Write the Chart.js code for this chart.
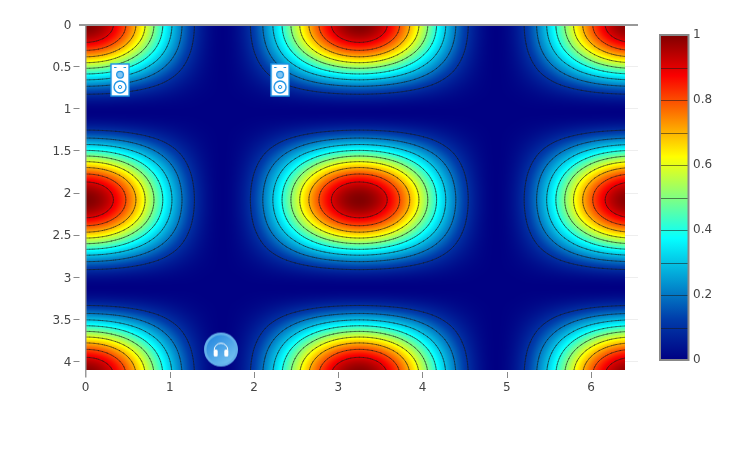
<!DOCTYPE html>
<html>
<head>
<meta charset="utf-8">
<style>
  html, body { margin: 0; background: #fff; }
  #wrap { position: relative; width: 729px; height: 450px; }
  canvas { position: absolute; left: 0; top: 0; }
</style>
<script src="https://cdn.jsdelivr.net/npm/chart.js@4"></script>
</head>
<body>
<div id="wrap">
  <canvas id="fieldChart" width="729" height="450"></canvas>
  <canvas id="barChart" width="729" height="450"></canvas>
</div>
<script>
const xGrid = [0,.203,.406,.609,.813,1.016,1.219,1.422,1.625,1.828,2.031,2.234,2.438,2.641,2.844,3.047,3.25,3.453,3.656,3.859,4.063,4.266,4.469,4.672,4.875,5.078,5.281,5.484,5.688,5.891,6.094,6.297,6.5];
const yGrid = [0,.13,.26,.39,.52,.65,.78,.91,1.04,1.17,1.3,1.43,1.56,1.69,1.82,1.95,2.08,2.21,2.34,2.47,2.6,2.73,2.86,2.99,3.12,3.25,3.38,3.51,3.64,3.77,3.9,4.03,4.16];
const zRows = [
[1,.962,.854,.691,.5,.309,.146,.038,0,.038,.146,.309,.5,.691,.854,.962,1,.962,.854,.691,.5,.309,.146,.038,0,.038,.146,.309,.5,.691,.854,.962,1],
[.962,.925,.822,.665,.481,.297,.14,.037,0,.037,.14,.297,.481,.665,.822,.925,.962,.925,.822,.665,.481,.297,.14,.037,0,.037,.14,.297,.481,.665,.822,.925,.962],
[.854,.822,.729,.59,.427,.264,.125,.032,0,.032,.125,.264,.427,.59,.729,.822,.854,.822,.729,.59,.427,.264,.125,.032,0,.032,.125,.264,.427,.59,.729,.822,.854],
[.691,.665,.59,.477,.346,.214,.101,.026,0,.026,.101,.214,.346,.477,.59,.665,.691,.665,.59,.477,.346,.214,.101,.026,0,.026,.101,.214,.346,.477,.59,.665,.691],
[.5,.481,.427,.346,.25,.155,.073,.019,0,.019,.073,.155,.25,.346,.427,.481,.5,.481,.427,.346,.25,.155,.073,.019,0,.019,.073,.155,.25,.346,.427,.481,.5],
[.309,.297,.264,.214,.155,.095,.045,.012,0,.012,.045,.095,.155,.214,.264,.297,.309,.297,.264,.214,.155,.095,.045,.012,0,.012,.045,.095,.155,.214,.264,.297,.309],
[.146,.14,.125,.101,.073,.045,.021,.006,0,.006,.021,.045,.073,.101,.125,.14,.146,.14,.125,.101,.073,.045,.021,.006,0,.006,.021,.045,.073,.101,.125,.14,.146],
[.038,.037,.032,.026,.019,.012,.006,.001,0,.001,.006,.012,.019,.026,.032,.037,.038,.037,.032,.026,.019,.012,.006,.001,0,.001,.006,.012,.019,.026,.032,.037,.038],
[0,0,0,0,0,0,0,0,0,0,0,0,0,0,0,0,0,0,0,0,0,0,0,0,0,0,0,0,0,0,0,0,0],
[.038,.037,.032,.026,.019,.012,.006,.001,0,.001,.006,.012,.019,.026,.032,.037,.038,.037,.032,.026,.019,.012,.006,.001,0,.001,.006,.012,.019,.026,.032,.037,.038],
[.146,.14,.125,.101,.073,.045,.021,.006,0,.006,.021,.045,.073,.101,.125,.14,.146,.14,.125,.101,.073,.045,.021,.006,0,.006,.021,.045,.073,.101,.125,.14,.146],
[.309,.297,.264,.214,.155,.095,.045,.012,0,.012,.045,.095,.155,.214,.264,.297,.309,.297,.264,.214,.155,.095,.045,.012,0,.012,.045,.095,.155,.214,.264,.297,.309],
[.5,.481,.427,.346,.25,.155,.073,.019,0,.019,.073,.155,.25,.346,.427,.481,.5,.481,.427,.346,.25,.155,.073,.019,0,.019,.073,.155,.25,.346,.427,.481,.5],
[.691,.665,.59,.477,.346,.214,.101,.026,0,.026,.101,.214,.346,.477,.59,.665,.691,.665,.59,.477,.346,.214,.101,.026,0,.026,.101,.214,.346,.477,.59,.665,.691],
[.854,.822,.729,.59,.427,.264,.125,.032,0,.032,.125,.264,.427,.59,.729,.822,.854,.822,.729,.59,.427,.264,.125,.032,0,.032,.125,.264,.427,.59,.729,.822,.854],
[.962,.925,.822,.665,.481,.297,.14,.037,0,.037,.14,.297,.481,.665,.822,.925,.962,.925,.822,.665,.481,.297,.14,.037,0,.037,.14,.297,.481,.665,.822,.925,.962],
[1,.962,.854,.691,.5,.309,.146,.038,0,.038,.146,.309,.5,.691,.854,.962,1,.962,.854,.691,.5,.309,.146,.038,0,.038,.146,.309,.5,.691,.854,.962,1],
[.962,.925,.822,.665,.481,.297,.14,.037,0,.037,.14,.297,.481,.665,.822,.925,.962,.925,.822,.665,.481,.297,.14,.037,0,.037,.14,.297,.481,.665,.822,.925,.962],
[.854,.822,.729,.59,.427,.264,.125,.032,0,.032,.125,.264,.427,.59,.729,.822,.854,.822,.729,.59,.427,.264,.125,.032,0,.032,.125,.264,.427,.59,.729,.822,.854],
[.691,.665,.59,.477,.346,.214,.101,.026,0,.026,.101,.214,.346,.477,.59,.665,.691,.665,.59,.477,.346,.214,.101,.026,0,.026,.101,.214,.346,.477,.59,.665,.691],
[.5,.481,.427,.346,.25,.155,.073,.019,0,.019,.073,.155,.25,.346,.427,.481,.5,.481,.427,.346,.25,.155,.073,.019,0,.019,.073,.155,.25,.346,.427,.481,.5],
[.309,.297,.264,.214,.155,.095,.045,.012,0,.012,.045,.095,.155,.214,.264,.297,.309,.297,.264,.214,.155,.095,.045,.012,0,.012,.045,.095,.155,.214,.264,.297,.309],
[.146,.14,.125,.101,.073,.045,.021,.006,0,.006,.021,.045,.073,.101,.125,.14,.146,.14,.125,.101,.073,.045,.021,.006,0,.006,.021,.045,.073,.101,.125,.14,.146],
[.038,.037,.032,.026,.019,.012,.006,.001,0,.001,.006,.012,.019,.026,.032,.037,.038,.037,.032,.026,.019,.012,.006,.001,0,.001,.006,.012,.019,.026,.032,.037,.038],
[0,0,0,0,0,0,0,0,0,0,0,0,0,0,0,0,0,0,0,0,0,0,0,0,0,0,0,0,0,0,0,0,0],
[.038,.037,.032,.026,.019,.012,.006,.001,0,.001,.006,.012,.019,.026,.032,.037,.038,.037,.032,.026,.019,.012,.006,.001,0,.001,.006,.012,.019,.026,.032,.037,.038],
[.146,.14,.125,.101,.073,.045,.021,.006,0,.006,.021,.045,.073,.101,.125,.14,.146,.14,.125,.101,.073,.045,.021,.006,0,.006,.021,.045,.073,.101,.125,.14,.146],
[.309,.297,.264,.214,.155,.095,.045,.012,0,.012,.045,.095,.155,.214,.264,.297,.309,.297,.264,.214,.155,.095,.045,.012,0,.012,.045,.095,.155,.214,.264,.297,.309],
[.5,.481,.427,.346,.25,.155,.073,.019,0,.019,.073,.155,.25,.346,.427,.481,.5,.481,.427,.346,.25,.155,.073,.019,0,.019,.073,.155,.25,.346,.427,.481,.5],
[.691,.665,.59,.477,.346,.214,.101,.026,0,.026,.101,.214,.346,.477,.59,.665,.691,.665,.59,.477,.346,.214,.101,.026,0,.026,.101,.214,.346,.477,.59,.665,.691],
[.854,.822,.729,.59,.427,.264,.125,.032,0,.032,.125,.264,.427,.59,.729,.822,.854,.822,.729,.59,.427,.264,.125,.032,0,.032,.125,.264,.427,.59,.729,.822,.854],
[.962,.925,.822,.665,.481,.297,.14,.037,0,.037,.14,.297,.481,.665,.822,.925,.962,.925,.822,.665,.481,.297,.14,.037,0,.037,.14,.297,.481,.665,.822,.925,.962],
[1,.962,.854,.691,.5,.309,.146,.038,0,.038,.146,.309,.5,.691,.854,.962,1,.962,.854,.691,.5,.309,.146,.038,0,.038,.146,.309,.5,.691,.854,.962,1]
];
const contourLevels = [.1,.2,.3,.4,.5,.6,.7,.8,.9];
const xTicks = [0,1,2,3,4,5,6];
const yTicks = [0,.5,1,1.5,2,2.5,3,3.5,4];
const barTicks = [0,.2,.4,.6,.8,1];
const speakerX = [.41,2.31];
const speakerY = [.658,.658];
const headphoneX = [1.608];
const headphoneY = [3.855];

const xMax = 6.558, yMax = 4.098, heatXMax = 6.4;
const jetStops = [[0,0,0,131],[.125,0,60,170],[.375,5,255,255],[.625,255,255,0],[.875,250,0,0],[1,128,0,0]];
const textColor = '#444';
const axisColor = '#999';
const tickColor = '#888';
const contourColor = 'rgba(25,25,25,0.55)';
const smooth = 4;

Chart.defaults.font.family = '"DejaVu Sans", sans-serif';
Chart.defaults.font.size = 12;
Chart.defaults.color = textColor;

function jet(v) {
  let i = 0;
  while (i < jetStops.length - 2 && v > jetStops[i + 1][0]) i++;
  const a = jetStops[i], b = jetStops[i + 1];
  const t = Math.max(0, Math.min(1, (v - a[0]) / (b[0] - a[0])));
  return [a[1] + (b[1] - a[1]) * t, a[2] + (b[2] - a[2]) * t, a[3] + (b[3] - a[3]) * t];
}

// catmull-rom smoothing of the table for drawing only, like zsmooth in a heatmap
function cubic(p0, p1, p2, p3, t) {
  return .5 * (2 * p1 + (p2 - p0) * t + (2 * p0 - 5 * p1 + 4 * p2 - p3) * t * t + (3 * p1 - p0 - 3 * p2 + p3) * t * t * t);
}
function smoothLine(a) {
  const n = a.length, out = [];
  const at = i => a[i < 0 ? -i : i >= n ? 2 * n - 2 - i : i];
  for (let i = 0; i < n - 1; i++) {
    for (let k = 0; k < smooth; k++) out.push(cubic(at(i - 1), at(i), at(i + 1), at(i + 2), k / smooth));
  }
  out.push(a[n - 1]);
  return out;
}
function smoothAxis(a) {
  const out = [];
  for (let i = 0; i < a.length - 1; i++) {
    for (let k = 0; k < smooth; k++) out.push(a[i] + (a[i + 1] - a[i]) * k / smooth);
  }
  out.push(a[a.length - 1]);
  return out;
}
const fineX = smoothAxis(xGrid);
const fineY = smoothAxis(yGrid);
const fineCols = zRows.map(smoothLine);
const fineZ = fineY.map(() => []);
fineX.forEach((_, i) => {
  smoothLine(fineCols.map(r => r[i])).forEach((v, j) => { fineZ[j][i] = v; });
});

function findCell(grid, v) {
  let i = 0;
  while (i < grid.length - 2 && v > grid[i + 1]) i++;
  return [i, Math.max(0, Math.min(1, (v - grid[i]) / (grid[i + 1] - grid[i])))];
}

// paints the z table into the plot area, pixel by pixel, through the scales
const heatPlugin = {
  id: 'heat',
  beforeDatasetsDraw(chart) {
    const { x: xs, y: ys } = chart.scales;
    const x0 = Math.round(xs.getPixelForValue(0));
    const x1 = Math.round(xs.getPixelForValue(heatXMax));
    const y0 = Math.round(ys.getPixelForValue(0));
    const y1 = Math.round(ys.getPixelForValue(yMax));
    const img = chart.ctx.createImageData(x1 - x0, y1 - y0);
    let n = 0;
    for (let py = y0; py < y1; py++) {
      const [j, fy] = findCell(fineY, ys.getValueForPixel(py + .5));
      for (let px = x0; px < x1; px++) {
        const [i, fx] = findCell(fineX, xs.getValueForPixel(px + .5));
        const top = fineZ[j][i] * (1 - fx) + fineZ[j][i + 1] * fx;
        const bot = fineZ[j + 1][i] * (1 - fx) + fineZ[j + 1][i + 1] * fx;
        const c = jet(top * (1 - fy) + bot * fy);
        img.data[n++] = c[0];
        img.data[n++] = c[1];
        img.data[n++] = c[2];
        img.data[n++] = 255;
      }
    }
    chart.ctx.putImageData(img, x0, y0);
  },
  afterDatasetsDraw(chart) {
    const { ctx, chartArea } = chart;
    const { x: xs, y: ys } = chart.scales;
    const left = xs.getPixelForValue(0), top = ys.getPixelForValue(0);
    ctx.save();
    // axis lines run a little past the corner, like the original
    ctx.fillStyle = axisColor;
    ctx.fillRect(79, Math.floor(top), chartArea.right - 79, 2);
    ctx.fillRect(Math.floor(left), Math.floor(top), 1.5, chartArea.bottom + 8 - top);
    ctx.fillStyle = tickColor;
    yTicks.slice(1).forEach(v => {
      ctx.fillRect(left - 12, Math.floor(ys.getPixelForValue(v)), 6, 1);
    });
    xTicks.slice(1).forEach(v => {
      ctx.fillRect(Math.round(xs.getPixelForValue(v)), chartArea.bottom + 2, 1, 6);
    });
    ctx.restore();
  }
};

// contour segments per level, nulls between them so the line breaks
function contourPoints(level) {
  const pts = [];
  for (let j = 0; j < fineY.length - 1; j++) {
    for (let i = 0; i < fineX.length - 1; i++) {
      const a = fineZ[j][i], b = fineZ[j][i + 1], c = fineZ[j + 1][i + 1], d = fineZ[j + 1][i];
      const cross = [];
      if ((a < level) !== (b < level)) cross.push({ x: fineX[i] + (level - a) / (b - a) * (fineX[i + 1] - fineX[i]), y: fineY[j] });
      if ((b < level) !== (c < level)) cross.push({ x: fineX[i + 1], y: fineY[j] + (level - b) / (c - b) * (fineY[j + 1] - fineY[j]) });
      if ((d < level) !== (c < level)) cross.push({ x: fineX[i] + (level - d) / (c - d) * (fineX[i + 1] - fineX[i]), y: fineY[j + 1] });
      if ((a < level) !== (d < level)) cross.push({ x: fineX[i], y: fineY[j] + (level - a) / (d - a) * (fineY[j + 1] - fineY[j]) });
      for (let k = 0; k + 1 < cross.length; k += 2) {
        pts.push(cross[k], cross[k + 1], { x: cross[k].x, y: null });
      }
    }
  }
  return pts;
}

function speakerIcon() {
  const c = document.createElement('canvas');
  c.width = 20; c.height = 34;
  const g = c.getContext('2d');
  g.fillStyle = '#fff';
  g.strokeStyle = '#1c94e6';
  g.lineWidth = 1.4;
  g.fillRect(1, 1, 18, 32);
  g.strokeRect(1, 1, 18, 32);
  g.lineWidth = 1.2;
  g.beginPath();
  g.moveTo(4, 4.5); g.lineTo(6.5, 4.5);
  g.moveTo(13.5, 4.5); g.lineTo(16, 4.5);
  g.stroke();
  g.fillStyle = '#82c4f2';
  g.beginPath(); g.arc(10, 11.7, 3.4, 0, Math.PI * 2); g.fill(); g.stroke();
  g.lineWidth = 1.4;
  g.beginPath(); g.arc(10, 24, 6, 0, Math.PI * 2); g.stroke();
  g.lineWidth = 1;
  g.beginPath(); g.arc(10, 24, 1.6, 0, Math.PI * 2); g.stroke();
  return c;
}

function headphoneIcon() {
  const c = document.createElement('canvas');
  c.width = 36; c.height = 36;
  const g = c.getContext('2d');
  g.fillStyle = '#63b0ea';
  g.beginPath(); g.arc(18, 18, 17, 0, Math.PI * 2); g.fill();
  const grad = g.createLinearGradient(8, 6, 28, 30);
  grad.addColorStop(0, '#2a8be0');
  grad.addColorStop(1, '#72c0f0');
  g.fillStyle = grad;
  g.beginPath(); g.arc(18, 18, 14.5, 0, Math.PI * 2); g.fill();
  g.strokeStyle = '#fff';
  g.lineWidth = 1;
  g.beginPath(); g.arc(18, 18.5, 6.8, Math.PI, 0); g.stroke();
  g.fillStyle = '#fff';
  g.beginPath(); g.roundRect(10.7, 18, 4, 7, 1.5); g.fill();
  g.beginPath(); g.roundRect(21.3, 18, 4, 7, 1.5); g.fill();
  return c;
}

const cells = [];
yGrid.forEach((y, j) => xGrid.forEach((x, i) => cells.push({ x, y, z: zRows[j][i] })));

new Chart(document.getElementById('fieldChart'), {
  type: 'scatter',
  data: {
    datasets: [
      { label: 'speakers', data: speakerX.map((x, i) => ({ x, y: speakerY[i] })), pointStyle: speakerIcon(), pointRadius: 10, order: 0 },
      { label: 'headphones', data: headphoneX.map((x, i) => ({ x, y: headphoneY[i] })), pointStyle: headphoneIcon(), pointRadius: 18, order: 0 },
      ...contourLevels.map(level => ({
        label: 'level ' + level,
        data: contourPoints(level),
        showLine: true,
        spanGaps: false,
        pointRadius: 0,
        borderColor: contourColor,
        borderWidth: 1,
        borderCapStyle: 'round',
        // a dash list keeps chart.js off its fast path, which merges points per pixel column
        borderDash: [10000, 1],
        clip: { left: 0, top: 0, right: -13.3, bottom: 0 },
        order: 1
      })),
      { label: 'z', data: cells, pointRadius: 0, order: 2 }
    ]
  },
  options: {
    responsive: false,
    devicePixelRatio: 1,
    animation: false,
    events: [],
    layout: { padding: { left: 0, top: 24.5, right: 91, bottom: 0 } },
    plugins: { legend: { display: false }, tooltip: { enabled: false } },
    scales: {
      x: {
        type: 'linear',
        min: 0,
        max: xMax,
        afterBuildTicks: s => { s.ticks = xTicks.map(value => ({ value })); },
        afterFit: s => { s.height = 80; },
        grid: { color: '#eee', drawTicks: false },
        border: { display: false },
        ticks: { padding: 11, maxRotation: 0, autoSkip: false, callback: v => String(v) }
      },
      y: {
        type: 'linear',
        reverse: true,
        min: 0,
        max: yMax,
        afterBuildTicks: s => { s.ticks = yTicks.map(value => ({ value })); },
        afterFit: s => { s.width = 85.5; },
        grid: { color: '#eee', drawTicks: false },
        border: { display: false },
        ticks: { padding: 14, labelOffset: 1, autoSkip: false, callback: v => String(v) }
      }
    }
  },
  plugins: [heatPlugin]
});

const barFramePlugin = {
  id: 'barFrame',
  afterDatasetsDraw(chart) {
    const { ctx, chartArea: a } = chart;
    const ys = chart.scales.y;
    ctx.save();
    ctx.strokeStyle = contourColor;
    ctx.lineWidth = 1;
    contourLevels.forEach(level => {
      const y = Math.round(ys.getPixelForValue(level)) + .5;
      ctx.beginPath();
      ctx.moveTo(a.left, y);
      ctx.lineTo(a.right, y);
      ctx.stroke();
    });
    ctx.strokeStyle = '#888';
    ctx.lineWidth = 2;
    ctx.strokeRect(a.left + 1, a.top, a.right - a.left - 1.5, a.bottom - a.top);
    ctx.restore();
  }
};

new Chart(document.getElementById('barChart'), {
  type: 'bar',
  data: {
    labels: ['z'],
    datasets: [{
      data: [[0, 1]],
      barPercentage: 1,
      categoryPercentage: 1,
      backgroundColor: ctx => {
        const { chartArea, scales } = ctx.chart;
        if (!chartArea) return '#fff';
        const grad = ctx.chart.ctx.createLinearGradient(0, scales.y.getPixelForValue(0), 0, scales.y.getPixelForValue(1));
        jetStops.forEach(s => grad.addColorStop(s[0], `rgb(${s[1]},${s[2]},${s[3]})`));
        return grad;
      }
    }]
  },
  options: {
    responsive: false,
    devicePixelRatio: 1,
    animation: false,
    events: [],
    layout: { padding: { left: 659, top: 35, right: 0, bottom: 90 } },
    plugins: { legend: { display: false }, tooltip: { enabled: false } },
    scales: {
      x: { display: false },
      y: {
        position: 'right',
        min: 0,
        max: 1,
        afterBuildTicks: s => { s.ticks = barTicks.map(value => ({ value })); },
        afterFit: s => { s.width = 40; },
        grid: { display: false, drawTicks: false },
        border: { display: false },
        ticks: { padding: 4, callback: v => String(v) }
      }
    }
  },
  plugins: [barFramePlugin]
});
</script>
</body>
</html>
